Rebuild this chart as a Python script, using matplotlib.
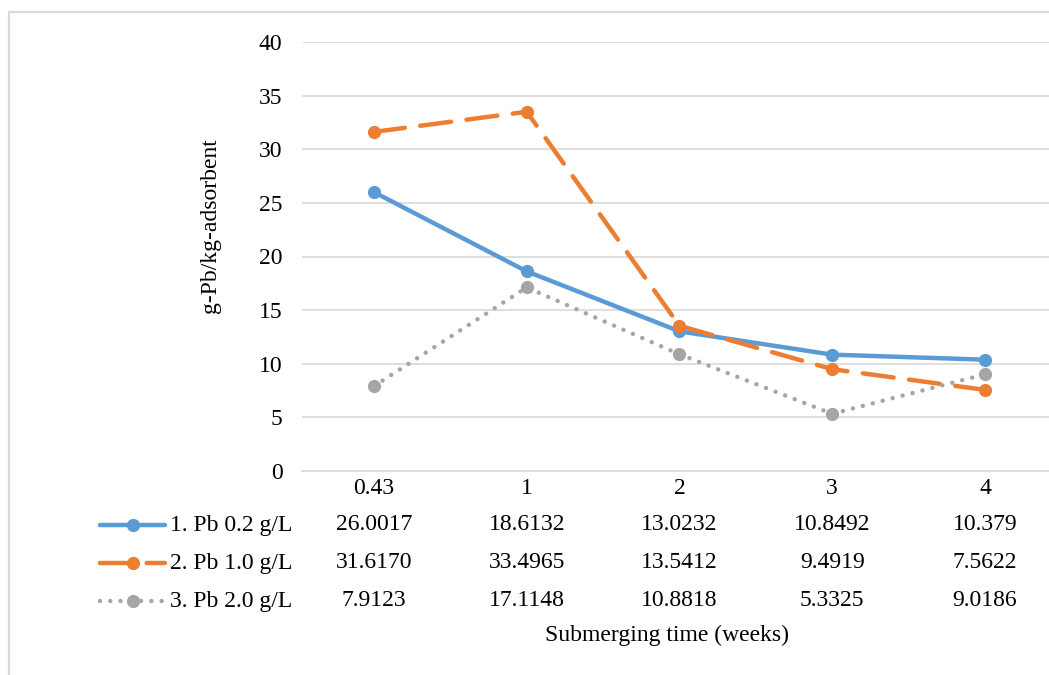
import matplotlib.pyplot as plt
from matplotlib.lines import Line2D
from matplotlib.patches import Rectangle

plt.rcParams['font.family'] = ['Liberation Serif', 'DejaVu Serif']

weeks = ["0.43", "1", "2", "3", "4"]
series_names = ["1. Pb 0.2 g/L", "2. Pb 1.0 g/L", "3. Pb 2.0 g/L"]
pb_02 = [26.0017, 18.6132, 13.0232, 10.8492, 10.379]
pb_10 = [31.6170, 33.4965, 13.5412, 9.4919, 7.5622]
pb_20 = [7.9123, 17.1148, 10.8818, 5.3325, 9.0186]
table_text = [
    ["26.0017", "18.6132", "13.0232", "10.8492", "10.379"],
    ["31.6170", "33.4965", "13.5412", "9.4919", "7.5622"],
    ["7.9123", "17.1148", "10.8818", "5.3325", "9.0186"],
]
y_ticks = [0, 5, 10, 15, 20, 25, 30, 35, 40]

colors = ["#5B9BD5", "#ED7D31", "#A5A5A5"]
styles = [
    dict(linestyle="-"),
    dict(linestyle=(0, (7, 3.5)), dash_capstyle="round"),
    dict(linestyle=(0, (0.01, 2.3)), dash_capstyle="round"),
]

W, H = 1049, 675
fig = plt.figure(figsize=(W / 100, H / 100), dpi=100)
fs = 17

# outer chart border (cropped at right and bottom)
fig.patches.append(Rectangle((9 / W, -0.1), 1.2, (H - 12) / H + 0.1,
                             transform=fig.transFigure, fill=False,
                             edgecolor="#D9D9D9", linewidth=1.6))

left, right = 302, 1049
top, bottom = 42, 471
ax = fig.add_axes([left / W, 1 - bottom / H, (right - left) / W, (bottom - top) / H])

x = list(range(len(weeks)))
for vals, c, st in zip([pb_02, pb_10, pb_20], colors, styles):
    ax.plot(x, vals, color=c, linewidth=3.2, marker="o", markersize=8.5,
            markeredgecolor=c, markerfacecolor=c, solid_capstyle="round", **st)

ax.set_xlim(-0.471, 4.419)
ax.set_ylim(0, 40)
ax.set_yticks(y_ticks)
ax.set_yticklabels([str(v) for v in y_ticks], fontsize=fs)
ax.tick_params(axis="y", length=0, pad=14)
ax.set_xticks([])
ax.grid(axis="y", color="#D9D9D9", linewidth=1.2)
ax.set_axisbelow(True)
for s in ["top", "right", "left"]:
    ax.spines[s].set_visible(False)
ax.spines["bottom"].set_color("#D9D9D9")
ax.spines["bottom"].set_linewidth(1.2)

# data table below the axis
tr = ax.get_xaxis_transform()
row_y = [488, 525, 563, 601]
for i, w in enumerate(weeks):
    ax.text(i, 1 - (row_y[0] - top) / (bottom - top), w, transform=tr,
            ha="center", va="center", fontsize=fs)
for r, row in enumerate(table_text):
    yy = 1 - (row_y[r + 1] - top) / (bottom - top)
    for i, t in enumerate(row):
        ax.text(i, yy, t, transform=tr, ha="center", va="center", fontsize=fs)
    fy = 1 - row_y[r + 1] / H
    fig.add_artist(Line2D([100 / W, 165 / W], [fy, fy], transform=fig.transFigure,
                          color=colors[r], linewidth=3.2, solid_capstyle="round",
                          **styles[r]))
    fig.add_artist(Line2D([132.5 / W], [fy], transform=fig.transFigure,
                          color=colors[r], marker="o", markersize=8.5, linestyle="none"))
    fig.text(170 / W, fy, series_names[r], ha="left", va="center", fontsize=fs)

fig.text(667 / W, 1 - 635 / H, "Submerging time (weeks)", ha="center",
         va="center", fontsize=fs)
fig.text(210 / W, 1 - 226 / H, "g-Pb/kg-adsorbent", ha="center", va="center",
         rotation=90, fontsize=fs)

fig.savefig("out.png", dpi=100)
